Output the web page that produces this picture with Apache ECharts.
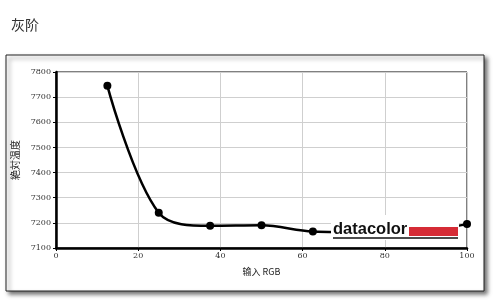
<!DOCTYPE html>
<html><head><meta charset="utf-8">
<script src="https://cdn.jsdelivr.net/npm/echarts@6/dist/echarts.min.js"></script>
<style>html,body{margin:0;padding:0;background:#fff}#c{width:500px;height:304px}</style>
</head><body><div id="c"></div>
<script>
const titleText = '灰阶';
const xName = '输入 RGB';
const yName = '絶対温度';
const xValues = [12.5, 25, 37.5, 50, 62.5, 75, 87.5, 100];
const yValues = [7745, 7240, 7188, 7190, 7166, 7163, 7166, 7195];
const xTicks = [0, 20, 40, 60, 80, 100];
const yTicks = [7100, 7200, 7300, 7400, 7500, 7600, 7700, 7800];

const chart = echarts.init(document.getElementById('c'), null, {renderer: 'canvas'});
const labelFont = {fontFamily: 'DejaVu Serif', fontSize: 8, color: '#333'};
chart.setOption({
  animation: false,
  backgroundColor: '#fff',
  title: {text: titleText, left: 6, top: 13, textStyle: {fontSize: 14, fontWeight: 'normal', color: '#333', fontFamily: 'Noto Sans CJK SC'}},
  graphic: [
    {type: 'rect', z: -10, shape: {x: 6, y: 55, width: 478, height: 236},
      style: {fill: '#fff', stroke: '#222', lineWidth: 1, shadowBlur: 4, shadowOffsetX: 3, shadowOffsetY: 3, shadowColor: 'rgba(0,0,0,0.55)'}},
    {type: 'rect', zlevel: 2, shape: {x: 331, y: 215, width: 128, height: 25}, style: {fill: '#fff'}},
    {type: 'text', zlevel: 2, x: 333, y: 229, style: {text: 'datacolor', font: 'bold 16.5px "Liberation Sans"', fill: '#111', verticalAlign: 'middle', align: 'left'}},
    {type: 'rect', zlevel: 2, shape: {x: 409, y: 227, width: 49, height: 9}, style: {fill: '#d52b35'}},
    {type: 'line', zlevel: 2, shape: {x1: 333, y1: 238, x2: 458, y2: 238}, style: {stroke: '#111', lineWidth: 1.5}}
  ],
  grid: {left: 56, right: 33, top: 72, bottom: 56, show: true, borderColor: '#000', borderWidth: 1},
  xAxis: {
    type: 'value', min: xTicks[0], max: xTicks[xTicks.length - 1], interval: 20,
    name: xName, nameLocation: 'middle', nameGap: 19,
    nameTextStyle: {fontFamily: 'Noto Sans CJK SC', fontSize: 9, color: '#222'},
    axisLine: {show: true, lineStyle: {color: '#000', width: 2.5}},
    axisTick: {show: true, length: 3, lineStyle: {color: '#000'}},
    axisLabel: Object.assign({margin: 4, formatter: v => String(v)}, labelFont),
    splitLine: {show: true, lineStyle: {color: '#cfcfcf', width: 1}}
  },
  yAxis: {
    type: 'value', min: yTicks[0], max: yTicks[yTicks.length - 1], interval: 100,
    name: yName, nameLocation: 'middle', nameGap: 36, nameRotate: 90,
    nameTextStyle: {fontFamily: 'Noto Sans CJK JP', fontSize: 10, color: '#222'},
    axisLine: {show: true, lineStyle: {color: '#000', width: 2.5}},
    axisTick: {show: true, length: 3, lineStyle: {color: '#000'}},
    axisLabel: Object.assign({margin: 5, formatter: v => String(v)}, labelFont),
    splitLine: {show: true, lineStyle: {color: '#cfcfcf', width: 1}}
  },
  series: [{
    type: 'line', smooth: 0.35, data: xValues.map((x, i) => [x, yValues[i]]),
    symbol: 'circle', symbolSize: 8, clip: false,
    lineStyle: {color: '#000', width: 2.5}, itemStyle: {color: '#000'}
  }]
});
</script></body></html>
